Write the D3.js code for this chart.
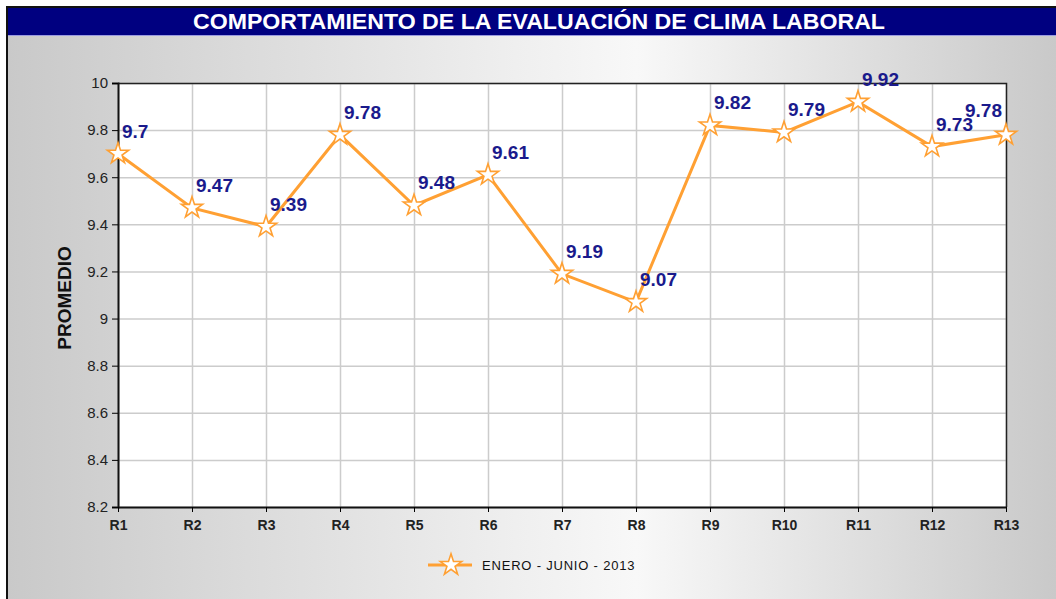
<!DOCTYPE html>
<html>
<head>
<meta charset="utf-8">
<script src="https://cdn.jsdelivr.net/npm/d3@7"></script>
<style>
  body { margin: 0; background: #fff; }
  svg { display: block; font-family: "Liberation Sans", Arial, sans-serif; }
  .grid line { stroke: #cccccc; stroke-width: 1.5; }
  .grid path { display: none; }
  .axis text { fill: #222; }
</style>
</head>
<body>
<div id="chart"></div>
<script>
(function(){

var categories = ["R1","R2","R3","R4","R5","R6","R7","R8","R9","R10","R11","R12","R13"];
var values = [9.7, 9.47, 9.39, 9.78, 9.48, 9.61, 9.19, 9.07, 9.82, 9.79, 9.92, 9.73, 9.78];
var yTicks = [8.2, 8.4, 8.6, 8.8, 9, 9.2, 9.4, 9.6, 9.8, 10];
var seriesName = "ENERO - JUNIO - 2013";
var title = "COMPORTAMIENTO DE LA EVALUACIÓN DE CLIMA LABORAL";

var W = 1056, H = 599;
var margin = {top: 83, left: 118, right: 50, bottom: 92};
var width = W - margin.left - margin.right,
    height = H - margin.top - margin.bottom;

var svg = d3.select("#chart").append("svg")
    .attr("width", W)
    .attr("height", H);

// background gradient
var defs = svg.append("defs");
var grad = defs.append("linearGradient").attr("id", "bg")
    .attr("x1", "0%").attr("x2", "100%").attr("y1", "0%").attr("y2", "0%");
grad.append("stop").attr("offset", "0%").attr("stop-color", "#c9c9c9");
grad.append("stop").attr("offset", "60%").attr("stop-color", "#f8f8f8");
grad.append("stop").attr("offset", "100%").attr("stop-color", "#c9c9c9");

svg.append("rect").attr("x", 7).attr("y", 7).attr("width", W - 7).attr("height", H - 7)
    .attr("fill", "url(#bg)");
// frame
svg.append("path").attr("d", "M7," + H + "V7H" + W)
    .attr("fill", "none").attr("stroke", "#111").attr("stroke-width", 2);

// title bar
svg.append("rect").attr("x", 8).attr("y", 8).attr("width", W - 8).attr("height", 27)
    .attr("fill", "#000080");
svg.append("line").attr("x1", 8).attr("x2", W).attr("y1", 35.5).attr("y2", 35.5)
    .attr("stroke", "#9a9ae0").attr("stroke-width", 1);
svg.append("text")
    .attr("x", 539).attr("y", 29)
    .attr("text-anchor", "middle")
    .attr("fill", "#fff")
    .style("font-size", "22px")
    .style("font-weight", "bold")
    .attr("textLength", 692)
    .attr("lengthAdjust", "spacingAndGlyphs")
    .text(title);

var g = svg.append("g")
    .attr("transform", "translate(" + margin.left + "," + margin.top + ")");

var x = d3.scalePoint().domain(categories).range([0, width]);
var y = d3.scaleLinear().domain([8.2, 10]).range([height, 0]);

g.append("rect").attr("width", width).attr("height", height).attr("fill", "#fff");

// grid
g.append("g").attr("class", "grid")
    .call(d3.axisLeft(y).tickValues(yTicks).tickSize(-width).tickFormat(""));
g.append("g").attr("class", "grid")
    .call(d3.axisBottom(x).tickSize(height).tickFormat(""));

// top / right border
g.append("path").attr("d", "M0,0.5H" + (width + 0.5) + "V" + height)
    .attr("fill", "none").attr("stroke", "#222").attr("stroke-width", 1.5);

var yAxis = g.append("g").attr("class", "axis")
    .call(d3.axisLeft(y).tickValues(yTicks).tickSize(6).tickPadding(4)
      .tickFormat(function(d){ return d3.format("")(+d.toFixed(1)); }));
yAxis.selectAll("text").style("font-size", "15px");
yAxis.select(".domain").attr("stroke", "#111").attr("stroke-width", 2);

var xAxis = g.append("g").attr("class", "axis")
    .attr("transform", "translate(0," + height + ")")
    .call(d3.axisBottom(x).tickSize(5).tickPadding(8).tickSizeOuter(0));
xAxis.selectAll("text").style("font-size", "14px").style("font-weight", "bold");
xAxis.select(".domain").attr("stroke", "#111").attr("stroke-width", 2);

// y title
svg.append("text")
    .attr("transform", "translate(71,298) rotate(-90)")
    .attr("text-anchor", "middle")
    .style("font-size", "19px")
    .style("font-weight", "bold")
    .attr("fill", "#111")
    .text("PROMEDIO");

var orange = "#ffa033";
var star = d3.symbol().type(d3.symbolStar).size(140);

var line = d3.line()
    .x(function(d, i){ return x(categories[i]); })
    .y(function(d){ return y(d); });

g.append("path").datum(values)
    .attr("d", line)
    .attr("fill", "none")
    .attr("stroke", orange)
    .attr("stroke-width", 3);

g.selectAll(".pt").data(values).enter().append("path")
    .attr("class", "pt")
    .attr("transform", function(d, i){ return "translate(" + x(categories[i]) + "," + y(d) + ")"; })
    .attr("d", star)
    .attr("fill", "#fff")
    .attr("stroke", orange)
    .attr("stroke-width", 1.6);

g.selectAll(".lbl").data(values).enter().append("text")
    .attr("class", "lbl")
    .attr("x", function(d, i){ return x(categories[i]) + (i === categories.length - 1 ? -4 : 4); })
    .attr("y", function(d, i){ return y(d) - (i === categories.length - 1 ? 18 : 16); })
    .attr("text-anchor", function(d, i){ return i === categories.length - 1 ? "end" : "start"; })
    .attr("fill", "#1a1a8c")
    .style("font-size", "19px")
    .style("font-weight", "bold")
    .text(function(d){ return d; });

// legend
var lg = svg.append("g").attr("transform", "translate(428,565)");
lg.append("line").attr("x1", 0).attr("x2", 44).attr("stroke", orange).attr("stroke-width", 3);
lg.append("path").attr("transform", "translate(23,0)").attr("d", star)
    .attr("fill", "#fff").attr("stroke", orange).attr("stroke-width", 1.6);
lg.append("text").attr("x", 54).attr("y", 4.5)
    .style("font-size", "13px")
    .style("letter-spacing", "0.8px")
    .attr("fill", "#111")
    .text(seriesName);

})();
</script>
</body>
</html>
